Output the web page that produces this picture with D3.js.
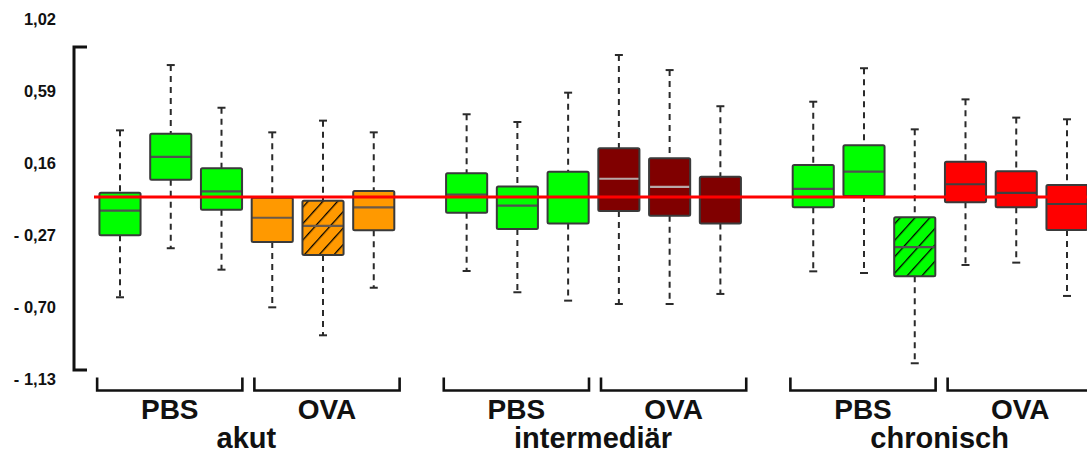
<!DOCTYPE html>
<html>
<head>
<meta charset="utf-8">
<script src="https://cdn.jsdelivr.net/npm/d3@7"></script>
<style>
  html, body { margin: 0; padding: 0; background: #fff; }
  svg { display: block; }
  text { font-family: "Liberation Sans", Arial, sans-serif; font-weight: bold; fill: #111; }
</style>
</head>
<body>
<svg id="chart" width="1087" height="454"></svg>
<script>
// ---- data ----
const phases = ["akut", "intermediär", "chronisch"];
const treatments = ["PBS", "OVA"];
// 18 boxes: phase index, treatment index, box index within treatment
const boxPhase     = [0,0,0,0,0,0, 1,1,1,1,1,1, 2,2,2,2,2,2];
const boxTreatment = [0,0,0,1,1,1, 0,0,0,1,1,1, 0,0,0,1,1,1];
const boxSlot      = [0,1,2,3,4,5, 0,1,2,3,4,5, 0,1,2,3,4,5];
const whiskerHigh = [0.355, 0.745, 0.490, 0.343, 0.413, 0.343, 0.451, 0.405, 0.580, 0.805, 0.715, 0.499, 0.526, 0.726, 0.361, 0.540, 0.431, 0.421];
const q3          = [-0.017, 0.335, 0.128, -0.047, -0.065, -0.007, 0.099, 0.019, 0.108, 0.248, 0.188, 0.078, 0.148, 0.266, -0.164, 0.168, 0.110, 0.029];
const median      = [-0.125, 0.196, -0.009, -0.167, -0.216, -0.105, -0.029, -0.095, -0.043, 0.066, 0.017, -0.043, 0.005, 0.108, -0.342, 0.033, -0.019, -0.085];
const q1          = [-0.272, 0.060, -0.119, -0.312, -0.389, -0.242, -0.137, -0.234, -0.202, -0.127, -0.155, -0.202, -0.105, -0.037, -0.517, -0.075, -0.105, -0.240];
const whiskerLow  = [-0.642, -0.349, -0.477, -0.702, -0.869, -0.585, -0.485, -0.612, -0.662, -0.682, -0.682, -0.622, -0.487, -0.497, -1.036, -0.449, -0.435, -0.634];
const boxColorKey = ["pbs","pbs","pbs","ovaAkut","ovaAkut","ovaAkut", "pbs","pbs","pbs","ovaInter","ovaInter","ovaInter", "pbs","pbs","pbs","ovaChron","ovaChron","ovaChron"];
const hatched     = [false,false,false,false,true,false, false,false,false,false,false,false, false,false,true,false,false,false];
const referenceValue = -0.043;
const tickValues = [1.02, 0.59, 0.16, -0.27, -0.70, -1.13];
const tickLabels = ["1,02", "0,59", "0,16", "- 0,27", "- 0,70", "- 1,13"];
const axisExtent = [0.853, -1.076];

// ---- style ----
const fillColors = { pbs: "#00ff00", ovaAkut: "#ff9900", ovaInter: "#800000", ovaChron: "#ff0000" };
const medianColors = { pbs: "#505050", ovaAkut: "#6a5a4a", ovaInter: "#b8a8a8", ovaChron: "#404040" };

const svg = d3.select("#chart");
const W = 1087, H = 454;

const groupGap = 0.83;
const pos = i => boxPhase[i] * (6 + groupGap) + boxSlot[i];
const x = d3.scaleLinear().domain([0, 2 * (6 + groupGap) + 5]).range([120, 1067]);
const y = d3.scaleLinear().domain([-1.13, 1.02]).range([379, 19]);
const step = x(1) - x(0);
const boxW = step * 0.81;

// hatch pattern
const defs = svg.append("defs");
defs.append("pattern")
  .attr("id", "hatch")
  .attr("patternUnits", "userSpaceOnUse")
  .attr("width", 11).attr("height", 11)
  .attr("patternTransform", "rotate(42)")
  .append("line")
  .attr("x1", 0).attr("y1", -2).attr("x2", 0).attr("y2", 13)
  .attr("stroke", "#000").attr("stroke-width", 2.6);

// y axis labels
const yAxis = d3.axisLeft(y).tickValues(tickValues)
  .tickFormat((d, i) => tickLabels[i]).tickSize(0).tickPadding(0);
const ag = svg.append("g").attr("transform", "translate(56,0)").call(yAxis);
ag.select(".domain").remove();
ag.selectAll("text").style("font-size", "16.5px").style("font-family", "'Liberation Sans', Arial, sans-serif")
  .style("font-weight", "bold").attr("fill", "#111");

// y axis bracket
const axX = 74;
svg.append("path")
  .attr("d", `M${axX + 13},${y(axisExtent[0])} H${axX} V${y(axisExtent[1])} H${axX + 13}`)
  .attr("fill", "none").attr("stroke", "#111").attr("stroke-width", 3);

// boxes
const idx = d3.range(whiskerHigh.length);
const g = svg.append("g");
const bx = g.selectAll("g.box").data(idx).join("g").attr("class", "box");

// whiskers
bx.append("line")
  .attr("x1", i => x(pos(i))).attr("x2", i => x(pos(i)))
  .attr("y1", i => y(whiskerHigh[i])).attr("y2", i => y(q3[i]))
  .attr("stroke", "#2a2a2a").attr("stroke-width", 2).attr("stroke-dasharray", "6,5");
bx.append("line")
  .attr("x1", i => x(pos(i))).attr("x2", i => x(pos(i)))
  .attr("y1", i => y(q1[i])).attr("y2", i => y(whiskerLow[i]))
  .attr("stroke", "#2a2a2a").attr("stroke-width", 2).attr("stroke-dasharray", "6,5");
// caps
[whiskerHigh, whiskerLow].forEach(arr => {
  bx.append("line")
    .attr("x1", i => x(pos(i)) - 4).attr("x2", i => x(pos(i)) + 4)
    .attr("y1", i => y(arr[i])).attr("y2", i => y(arr[i]))
    .attr("stroke", "#2a2a2a").attr("stroke-width", 2);
});
// box rect
bx.append("rect")
  .attr("x", i => x(pos(i)) - boxW / 2).attr("width", boxW)
  .attr("y", i => y(q3[i])).attr("height", i => y(q1[i]) - y(q3[i]))
  .attr("rx", 1.5)
  .attr("fill", i => fillColors[boxColorKey[i]]);
// hatch overlay
bx.filter(i => hatched[i]).append("rect")
  .attr("x", i => x(pos(i)) - boxW / 2).attr("width", boxW)
  .attr("y", i => y(q3[i])).attr("height", i => y(q1[i]) - y(q3[i]))
  .attr("fill", "url(#hatch)");
// median
bx.append("line")
  .attr("x1", i => x(pos(i)) - boxW / 2).attr("x2", i => x(pos(i)) + boxW / 2)
  .attr("y1", i => y(median[i])).attr("y2", i => y(median[i]))
  .attr("stroke", i => medianColors[boxColorKey[i]]).attr("stroke-width", 2.2);
// box outline
bx.append("rect")
  .attr("x", i => x(pos(i)) - boxW / 2).attr("width", boxW)
  .attr("y", i => y(q3[i])).attr("height", i => y(q1[i]) - y(q3[i]))
  .attr("rx", 1.5)
  .attr("fill", "none").attr("stroke", "#3a3a3a").attr("stroke-width", 2);

// reference line
svg.append("line")
  .attr("x1", 94).attr("x2", W)
  .attr("y1", y(referenceValue)).attr("y2", y(referenceValue))
  .attr("stroke", "#ff0000").attr("stroke-width", 3);

// brackets + labels
const halfSpan = step * 2.98;   // half of the full phase bracket width
const innerGap = 6;             // half-gap between PBS and OVA brackets
const bracketY = 390.5, bracketTop = 377.5;
phases.forEach((ph, p) => {
  const members = idx.filter(i => boxPhase[i] === p);
  const cx = (x(pos(members[0])) + x(pos(members[members.length - 1]))) / 2 + 1.5;
  treatments.forEach((tr, t) => {
    const x0 = t === 0 ? cx - halfSpan : cx + innerGap;
    const x1 = t === 0 ? cx - innerGap : cx + halfSpan;
    svg.append("path")
      .attr("d", `M${x0},${bracketTop} V${bracketY} H${x1} V${bracketTop}`)
      .attr("fill", "none").attr("stroke", "#111").attr("stroke-width", 2.6);
    svg.append("text")
      .attr("x", (x0 + x1) / 2).attr("y", 419)
      .attr("text-anchor", "middle")
      .style("font-size", "28px")
      .text(tr);
  });
  svg.append("text")
    .attr("x", cx - 2).attr("y", 448)
    .attr("text-anchor", "middle")
    .style("font-size", "29px")
    .text(ph);
});
</script>
</body>
</html>
